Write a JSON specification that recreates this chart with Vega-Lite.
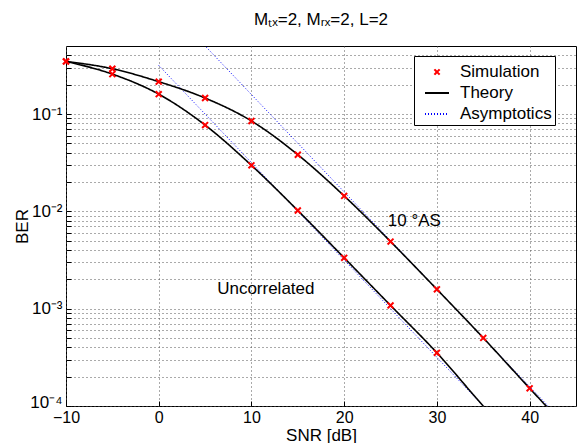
{
  "$schema": "https://vega.github.io/schema/vega-lite/v6.json",
  "width": 510,
  "height": 360,
  "autosize": {"type": "none"},
  "padding": {"left": 66, "top": 46, "right": 5, "bottom": 37},
  "config": {
    "font": "Liberation Sans",
    "view": {"stroke": "black", "strokeWidth": 1},
    "axis": {
      "labelFontSize": 17,
      "titleFontSize": 17,
      "titleFontWeight": "normal",
      "labelColor": "black",
      "titleColor": "black",
      "labelFont": "Liberation Sans",
      "titleFont": "Liberation Sans",
      "labelFlush": false,
      "labelOverlap": false,
      "gridColor": "#555555",
      "gridDash": [1, 3],
      "gridOpacity": 1,
      "gridWidth": 1,
      "domain": false,
      "ticks": true,
      "tickColor": "black",
      "tickSize": -5
    }
  },
  "title": {
    "text": "Mₜₓ=2, Mᵣₓ=2, L=2",
    "fontSize": 17,
    "fontWeight": "normal",
    "font": "Liberation Sans",
    "color": "black",
    "offset": 17
  },
  "datasets": {
    "curves": [
      {"snr": -10, "ber": 0.347, "curve": "10 °AS", "kind": "Simulation"},
      {"snr": -5, "ber": 0.292, "curve": "10 °AS", "kind": "Simulation"},
      {"snr": 0, "ber": 0.215, "curve": "10 °AS", "kind": "Simulation"},
      {"snr": 5, "ber": 0.146, "curve": "10 °AS", "kind": "Simulation"},
      {"snr": 10, "ber": 0.0848, "curve": "10 °AS", "kind": "Simulation"},
      {"snr": 15, "ber": 0.0382, "curve": "10 °AS", "kind": "Simulation"},
      {"snr": 20, "ber": 0.0144, "curve": "10 °AS", "kind": "Simulation"},
      {"snr": 25, "ber": 0.00489, "curve": "10 °AS", "kind": "Simulation"},
      {"snr": 30, "ber": 0.00158, "curve": "10 °AS", "kind": "Simulation"},
      {"snr": 35, "ber": 0.000501, "curve": "10 °AS", "kind": "Simulation"},
      {"snr": 40, "ber": 0.000152, "curve": "10 °AS", "kind": "Simulation"},
      {"snr": -10, "ber": 0.347, "curve": "Uncorrelated", "kind": "Simulation"},
      {"snr": -5, "ber": 0.257, "curve": "Uncorrelated", "kind": "Simulation"},
      {"snr": 0, "ber": 0.160, "curve": "Uncorrelated", "kind": "Simulation"},
      {"snr": 5, "ber": 0.077, "curve": "Uncorrelated", "kind": "Simulation"},
      {"snr": 10, "ber": 0.0297, "curve": "Uncorrelated", "kind": "Simulation"},
      {"snr": 15, "ber": 0.0102, "curve": "Uncorrelated", "kind": "Simulation"},
      {"snr": 20, "ber": 0.00333, "curve": "Uncorrelated", "kind": "Simulation"},
      {"snr": 25, "ber": 0.00108, "curve": "Uncorrelated", "kind": "Simulation"},
      {"snr": 30, "ber": 0.000352, "curve": "Uncorrelated", "kind": "Simulation"},

      {"snr": -10, "ber": 0.347, "curve": "10 °AS", "kind": "Theory"},
      {"snr": -5, "ber": 0.292, "curve": "10 °AS", "kind": "Theory"},
      {"snr": 0, "ber": 0.215, "curve": "10 °AS", "kind": "Theory"},
      {"snr": 5, "ber": 0.146, "curve": "10 °AS", "kind": "Theory"},
      {"snr": 10, "ber": 0.0848, "curve": "10 °AS", "kind": "Theory"},
      {"snr": 15, "ber": 0.0382, "curve": "10 °AS", "kind": "Theory"},
      {"snr": 20, "ber": 0.0144, "curve": "10 °AS", "kind": "Theory"},
      {"snr": 25, "ber": 0.00489, "curve": "10 °AS", "kind": "Theory"},
      {"snr": 30, "ber": 0.00158, "curve": "10 °AS", "kind": "Theory"},
      {"snr": 35, "ber": 0.000501, "curve": "10 °AS", "kind": "Theory"},
      {"snr": 40, "ber": 0.000152, "curve": "10 °AS", "kind": "Theory"},
      {"snr": 45, "ber": 0.000047, "curve": "10 °AS", "kind": "Theory"},
      {"snr": -10, "ber": 0.347, "curve": "Uncorrelated", "kind": "Theory"},
      {"snr": -5, "ber": 0.257, "curve": "Uncorrelated", "kind": "Theory"},
      {"snr": 0, "ber": 0.160, "curve": "Uncorrelated", "kind": "Theory"},
      {"snr": 5, "ber": 0.077, "curve": "Uncorrelated", "kind": "Theory"},
      {"snr": 10, "ber": 0.0297, "curve": "Uncorrelated", "kind": "Theory"},
      {"snr": 15, "ber": 0.0102, "curve": "Uncorrelated", "kind": "Theory"},
      {"snr": 20, "ber": 0.00333, "curve": "Uncorrelated", "kind": "Theory"},
      {"snr": 25, "ber": 0.00108, "curve": "Uncorrelated", "kind": "Theory"},
      {"snr": 30, "ber": 0.000352, "curve": "Uncorrelated", "kind": "Theory"},
      {"snr": 35, "ber": 0.0001, "curve": "Uncorrelated", "kind": "Theory"},
      {"snr": 40, "ber": 0.000031, "curve": "Uncorrelated", "kind": "Theory"},

      {"snr": 0, "ber": 1.585, "curve": "10 °AS", "kind": "Asymptotics"},
      {"snr": 45, "ber": 0.00005, "curve": "10 °AS", "kind": "Asymptotics"},
      {"snr": 0, "ber": 0.316, "curve": "Uncorrelated", "kind": "Asymptotics"},
      {"snr": 45, "ber": 0.00001, "curve": "Uncorrelated", "kind": "Asymptotics"}
    ],
    "labels": [
      {"snr": 24.7, "ber": 0.0079, "text": "10 °AS"},
      {"snr": 6.3, "ber": 0.0016, "text": "Uncorrelated"}
    ]
  },
  "encoding": {
    "x": {
      "field": "snr",
      "type": "quantitative",
      "scale": {"domain": [-10, 45], "nice": false, "zero": false},
      "axis": {
        "title": "SNR [dB]",
        "values": [-10, 0, 10, 20, 30, 40],
        "labelFontSize": 16,
        "labelPadding": 8,
        "titlePadding": 2
      }
    },
    "y": {
      "field": "ber",
      "type": "quantitative",
      "scale": {"type": "log", "domain": [0.0001, 0.5], "nice": false},
      "axis": {
        "title": "BER",
        "values": [0.0001, 0.0002, 0.0003, 0.0004, 0.0005, 0.0006, 0.0007, 0.0008, 0.0009, 0.001, 0.002, 0.003, 0.004, 0.005, 0.006, 0.007, 0.008, 0.009, 0.01, 0.02, 0.03, 0.04, 0.05, 0.06, 0.07, 0.08, 0.09, 0.1, 0.2, 0.3, 0.4],
        "labelExpr": "datum.value == 0.1 ? '10⁻¹' : datum.value == 0.01 ? '10⁻²' : datum.value == 0.001 ? '10⁻³' : datum.value == 0.0001 ? '10⁻⁴' : ''",
        "labelOffset": {"condition": {"test": "datum.value == 0.0001", "value": -4}, "value": 0},
        "labelPadding": 9,
        "titlePadding": -2
      }
    }
  },
  "layer": [
    {
      "data": {"name": "curves"},
      "transform": [{"filter": "datum.kind == 'Asymptotics'"}],
      "mark": {"type": "line", "clip": true, "strokeWidth": 1},
      "encoding": {
        "detail": {"field": "curve"},
        "color": {
          "field": "kind", "type": "nominal",
          "scale": {"domain": ["Simulation", "Theory", "Asymptotics"], "range": ["#ff0000", "#000000", "#0000ff"]},
          "legend": {
            "title": null, "orient": "none", "legendX": 348, "legendY": 10,
            "fillColor": "white", "strokeColor": "black", "padding": 3,
            "symbolOffset": 7, "symbolSize": 576, "symbolStrokeWidth": 2,
            "labelFontSize": 17, "labelFont": "Liberation Sans", "labelColor": "black",
            "labelOffset": 10, "rowPadding": -14
          }
        },
        "strokeDash": {
          "field": "kind", "type": "nominal",
          "scale": {"domain": ["Simulation", "Theory", "Asymptotics"], "range": [[1, 0], [1, 0], [1, 2]]},
          "legend": {
            "title": null, "orient": "none", "legendX": 348, "legendY": 10,
            "fillColor": "white", "strokeColor": "black", "padding": 3,
            "symbolOffset": 7, "symbolSize": 576, "symbolStrokeWidth": 2,
            "labelFontSize": 17, "labelFont": "Liberation Sans", "labelColor": "black",
            "labelOffset": 10, "rowPadding": -14
          }
        }
      }
    },
    {
      "data": {"name": "curves"},
      "transform": [{"filter": "datum.kind == 'Theory'"}],
      "mark": {"type": "line", "clip": true, "strokeWidth": 1.6, "interpolate": "monotone"},
      "encoding": {
        "detail": {"field": "curve"},
        "color": {"field": "kind", "type": "nominal"},
        "strokeDash": {"field": "kind", "type": "nominal"}
      }
    },
    {
      "data": {"name": "curves"},
      "transform": [{"filter": "datum.kind == 'Simulation'"}],
      "mark": {"type": "point", "filled": false, "size": 729, "strokeWidth": 2, "opacity": 1},
      "encoding": {
        "color": {"field": "kind", "type": "nominal"},
        "shape": {
          "field": "kind", "type": "nominal",
          "scale": {"domain": ["Simulation", "Theory", "Asymptotics"], "range": ["M-0.22,-0.22L0.22,0.22M-0.22,0.22L0.22,-0.22", "stroke", "stroke"]},
          "legend": {
            "title": null, "orient": "none", "legendX": 348, "legendY": 10,
            "fillColor": "white", "strokeColor": "black", "padding": 3,
            "symbolOffset": 7, "symbolSize": 576, "symbolStrokeWidth": 2,
            "labelFontSize": 17, "labelFont": "Liberation Sans", "labelColor": "black",
            "labelOffset": 10, "rowPadding": -14
          }
        }
      }
    },
    {
      "data": {"name": "labels"},
      "mark": {"type": "text", "align": "left", "baseline": "middle", "fontSize": 17, "font": "Liberation Sans", "color": "black"},
      "encoding": {
        "text": {"field": "text"}
      }
    }
  ]
}
